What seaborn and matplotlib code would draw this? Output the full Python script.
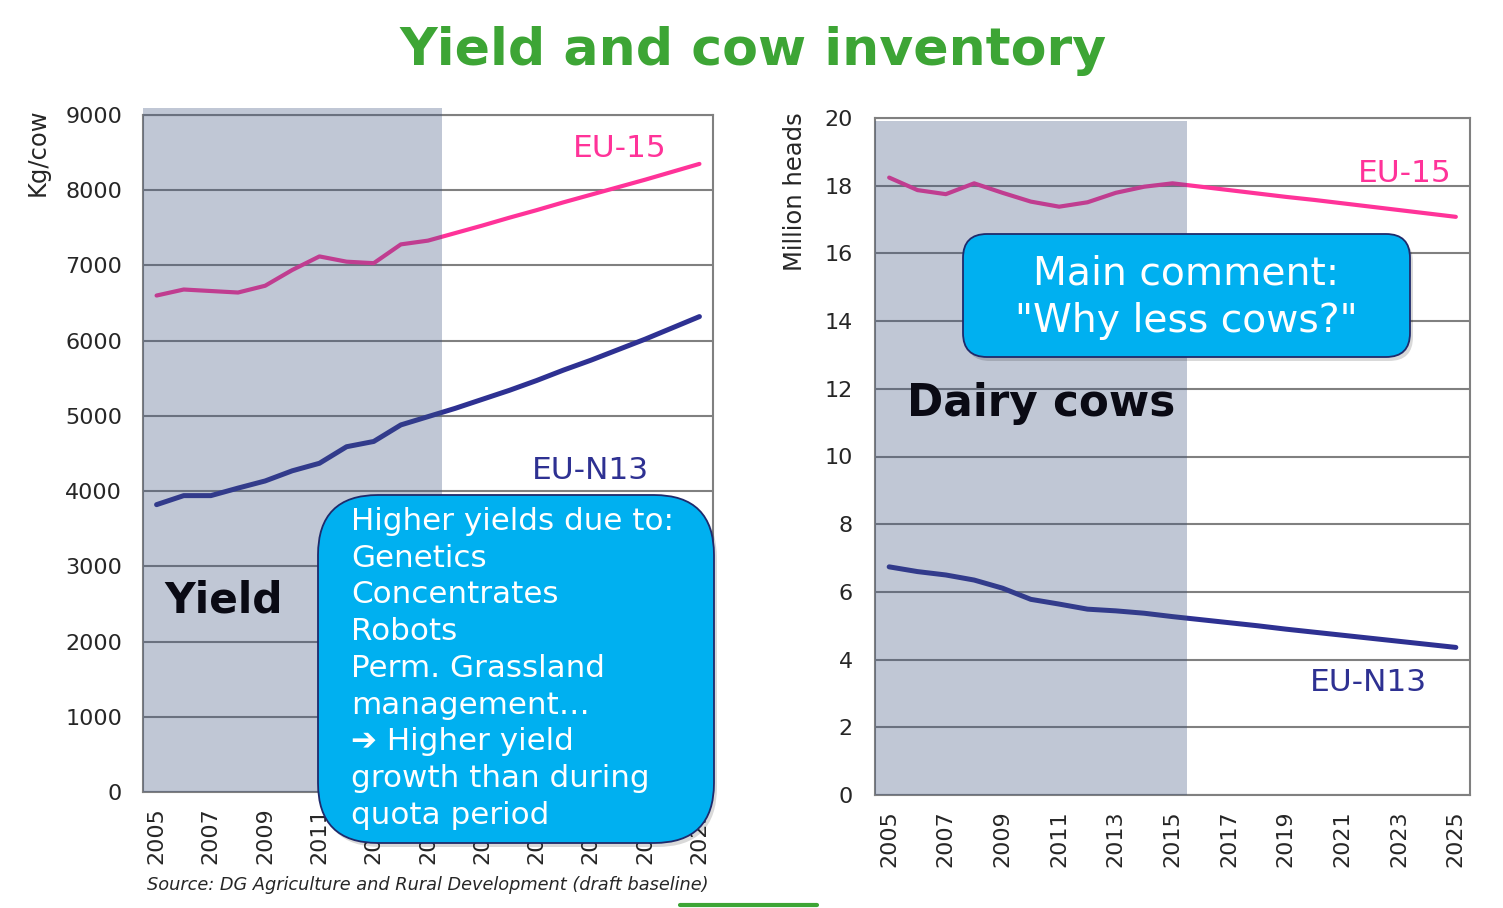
import numpy as np
import pandas as pd
import matplotlib
matplotlib.use("Agg")
import matplotlib.pyplot as plt
import seaborn as sns
from matplotlib.patches import FancyBboxPatch
from matplotlib.lines import Line2D
from matplotlib.transforms import IdentityTransform

# --- data ---
years = list(range(2005, 2026))
yield_eu15 = [6600, 6680, 6660, 6640, 6730, 6940, 7120, 7050, 7030, 7280, 7330,
              7430, 7530, 7635, 7735, 7840, 7940, 8040, 8140, 8245, 8350]
yield_eun13 = [3820, 3940, 3940, 4040, 4135, 4270, 4370, 4590, 4660, 4880, 4990,
               5100, 5220, 5340, 5470, 5610, 5740, 5880, 6020, 6170, 6320]
cows_eu15 = [18.24, 17.87, 17.75, 18.07, 17.79, 17.53, 17.38, 17.51, 17.79, 17.97, 18.07,
             17.97, 17.87, 17.77, 17.67, 17.58, 17.48, 17.38, 17.28, 17.18, 17.08]
cows_eun13 = [6.74, 6.60, 6.50, 6.35, 6.11, 5.78, 5.64, 5.49, 5.44, 5.37, 5.27,
              5.18, 5.09, 5.00, 4.90, 4.81, 4.72, 4.63, 4.54, 4.45, 4.36]
quota_end = 2015
yield_ticks = list(range(0, 9001, 1000))
cow_ticks = list(range(0, 21, 2))

PINK = '#ff3399'
NAVY = '#2e3192'
GRID = '#808080'
SHADE = (61/255, 83/255, 127/255)
CALLOUT = '#00b0f0'
GREEN = '#3da535'

sns.set_style("white")
plt.rcParams['font.family'] = ['DejaVu Sans']

W, H = 1503, 908
fig = plt.figure(figsize=(W/100, H/100), dpi=100)
ax1 = fig.add_axes([143/W, 1 - 792/H, 570/W, 677/H])
ax2 = fig.add_axes([875/W, 1 - 795/H, 595/W, 677/H])

df_yield = pd.DataFrame({'year': years, 'EU-15': yield_eu15, 'EU-N13': yield_eun13})
df_cows = pd.DataFrame({'year': years, 'EU-15': cows_eu15, 'EU-N13': cows_eun13})


def style_axis(ax, df, ticks, ymax, shade_top, pad):
    sns.lineplot(data=df, x='year', y='EU-15', ax=ax, color=PINK, lw=3.0, zorder=2)
    sns.lineplot(data=df, x='year', y='EU-N13', ax=ax, color=NAVY, lw=3.6, zorder=2)
    ax.set_xlim(years[0] - 0.5, years[-1] + 0.5)
    ax.set_ylim(0, ymax)
    ax.set_yticks(ticks)
    ax.set_xticks(years[::2])
    ax.set_xticks(np.arange(years[0] - 0.5, years[-1] + 1), minor=True)
    ax.tick_params(axis='x', which='major', length=0, labelrotation=90, labelsize=16, pad=11)
    ax.tick_params(axis='x', which='minor', length=6, width=1.5, color=GRID, direction='out')
    ax.tick_params(axis='y', length=0, labelsize=16, pad=pad)
    ax.set_xlabel('')
    ax.set_ylabel('')
    ax.grid(axis='y', color=GRID, lw=1.5, zorder=1)
    ax.set_axisbelow(True)
    for s in ax.spines.values():
        s.set_color(GRID)
        s.set_linewidth(1.5)
    # quota period shading, drawn over the lines like in the slide
    span = ax.axvspan(years[0] - 0.5, quota_end + 0.5, ymin=0, ymax=shade_top,
                      color=SHADE, alpha=0.32, lw=0, zorder=3)
    span.set_clip_on(False)


style_axis(ax1, df_yield, yield_ticks, 9000, 1.0103, 15)
style_axis(ax2, df_cows, cow_ticks, 20, 0.9956, 16)

# series labels
ax1.text(2022.05, 8550, 'EU-15', color=PINK, fontsize=22.5, ha='center', va='center', zorder=5)
ax1.text(2021.0, 4269, 'EU-N13', color=NAVY, fontsize=22.5, ha='center', va='center', zorder=5)
ax2.text(2023.2, 18.37, 'EU-15', color=PINK, fontsize=22.5, ha='center', va='center', zorder=5)
ax2.text(2021.9, 3.31, 'EU-N13', color=NAVY, fontsize=22.5, ha='center', va='center', zorder=5)
ax1.text(2005.3, 2550, 'Yield', color='#0a0a14', fontsize=30.5, fontweight='bold',
         ha='left', va='center', zorder=5)
ax2.text(2005.63, 11.58, 'Dairy cows', color='#0a0a14', fontsize=31.5, fontweight='bold',
         ha='left', va='center', zorder=5)

# titles and axis labels
fig.text(753/W, 1 - 51/H, 'Yield and cow inventory', color=GREEN, fontsize=37.5,
         fontweight='bold', ha='center', va='center')
fig.text(38/W, 1 - 108/H, 'Kg/cow', rotation=90, fontsize=17.5, ha='center', va='top')
fig.text(795/W, 1 - 112/H, 'Million heads', rotation=90, fontsize=17.5, ha='center', va='top')
fig.text(147/W, 1 - 885/H, 'Source: DG Agriculture and Rural Development (draft baseline)',
         fontsize=12.75, style='italic', ha='left', va='center')
fig.add_artist(Line2D([680/W, 817/W], [1 - 905/H, 1 - 905/H], color=GREEN, lw=3))

# callout boxes (pixel coordinates)
def callout(x0, y0, x1, y1, r):
    shadow = FancyBboxPatch((x0 + 3, H - y1 - 4), x1 - x0, y1 - y0,
                            boxstyle=f"round,pad=0,rounding_size={r}",
                            transform=IdentityTransform(), fc='#000000', alpha=0.15,
                            ec='none', zorder=9)
    box = FancyBboxPatch((x0, H - y1), x1 - x0, y1 - y0,
                         boxstyle=f"round,pad=0,rounding_size={r}",
                         transform=IdentityTransform(), fc=CALLOUT, ec='#1f2a6b',
                         lw=1.3, zorder=10)
    fig.add_artist(shadow)
    fig.add_artist(box)


callout(318, 495, 714, 843, 60)
callout(963, 234, 1410, 357, 24)

left_text = ("Higher yields due to:\nGenetics\nConcentrates\nRobots\nPerm. Grassland\n"
             "management…\n➔ Higher yield\ngrowth than during\nquota period")
fig.text(351/W, 1 - 507/H, left_text, color='white', fontsize=22.3, ha='left', va='top',
         linespacing=1.335, zorder=11)
fig.text(1186/W, 1 - 297/H, 'Main comment:\n"Why less cows?"', color='white', fontsize=28.3,
         ha='center', va='center', linespacing=1.30, zorder=11)

fig.savefig('out.png', dpi=100)
